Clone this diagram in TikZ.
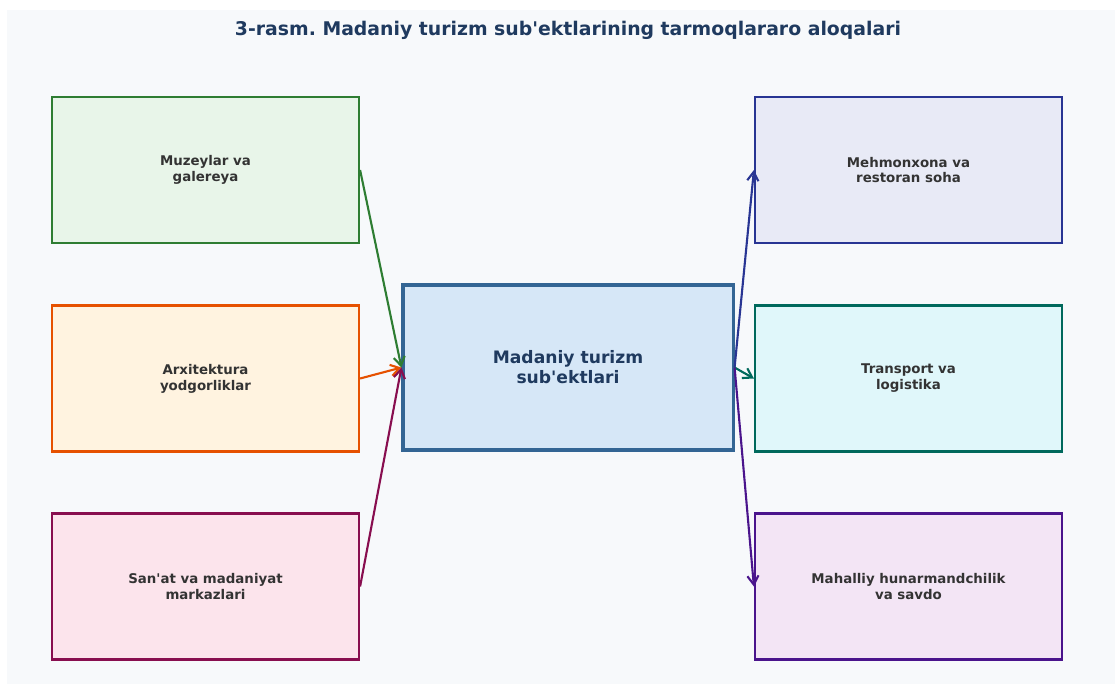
\documentclass[tikz,border=0pt]{standalone}
\usepackage{fontspec}
\setmainfont{DejaVu Sans}
\usetikzlibrary{arrows.meta}
\frenchspacing

\definecolor{pagebg}{HTML}{F7F9FB}
\definecolor{titleC}{HTML}{1F3A5F}
\definecolor{textC}{HTML}{333333}
\definecolor{hubD}{HTML}{336594}
\definecolor{hubF}{HTML}{D6E7F7}
\definecolor{grnD}{HTML}{2E7D32}
\definecolor{grnF}{HTML}{E8F5E9}
\definecolor{orgD}{HTML}{E65100}
\definecolor{orgF}{HTML}{FFF3E0}
\definecolor{marD}{HTML}{880E4F}
\definecolor{marF}{HTML}{FCE4EC}
\definecolor{indD}{HTML}{283593}
\definecolor{indF}{HTML}{E8EAF6}
\definecolor{tealD}{HTML}{00695C}
\definecolor{tealF}{HTML}{E0F7FA}
\definecolor{purD}{HTML}{4A148C}
\definecolor{purF}{HTML}{F3E5F5}

\begin{document}
\begin{tikzpicture}[x=0.025cm,y=-0.025cm]
\tikzset{sub/.style 2 args={draw=#1, fill=#2, line width=1.5pt, minimum width=7.675cm, minimum height=3.65cm,
           align=center, text=textC, font=\fontsize{9.5}{11.3}\selectfont\bfseries},
         hub/.style={draw=hubD, fill=hubF, line width=2.2pt, minimum width=8.25cm, minimum height=4.125cm,
           align=center, text=titleC, font=\fontsize{12.2}{14.2}\selectfont\bfseries},
         link/.style={draw=#1, line width=1.5pt, -{Straight Barb[length=2.2mm,width=2.8mm]}}};
   \useasboundingbox (0,0) rectangle (1115,684);
   \fill[pagebg] (7,10) rectangle (1115,684);

   \node[text=titleC, font=\fontsize{13.4}{16}\selectfont\bfseries] (title) at (568,30.5) {3-rasm. Madaniy turizm sub\textquotesingle ektlarining tarmoqlararo aloqalari};

   \node[hub] (hub) at (568,367.5) {Madaniy turizm\\sub\textquotesingle ektlari};

   \node[sub={grnD}{grnF}] (muz) at (205.5,170) {Muzeylar va\\galereya};
   \node[sub={orgD}{orgF}] (arx) at (205.5,378.5) {Arxitektura\\yodgorliklar};
   \node[sub={marD}{marF}] (san) at (205.5,586.5) {San\textquotesingle at va madaniyat\\markazlari};

   \node[sub={indD}{indF}] (meh) at (908.5,170) {Mehmonxona va\\restoran soha};
   \node[sub={tealD}{tealF}] (tra) at (908.5,378.5) {Transport va\\logistika};
   \node[sub={purD}{purF}] (mah) at (908.5,586.5) {Mahalliy hunarmandchilik\\va savdo};

   \draw[link=grnD] (muz.east) -- (hub.west);
   \draw[link=orgD] (arx.east) -- (hub.west);
   \draw[link=marD] (san.east) -- (hub.west);

   \draw[link=indD] (hub.east) -- (meh.west);
   \draw[link=tealD] (hub.east) -- (tra.west);
   \draw[link=purD] (hub.east) -- (mah.west);

\end{tikzpicture}
\end{document}
